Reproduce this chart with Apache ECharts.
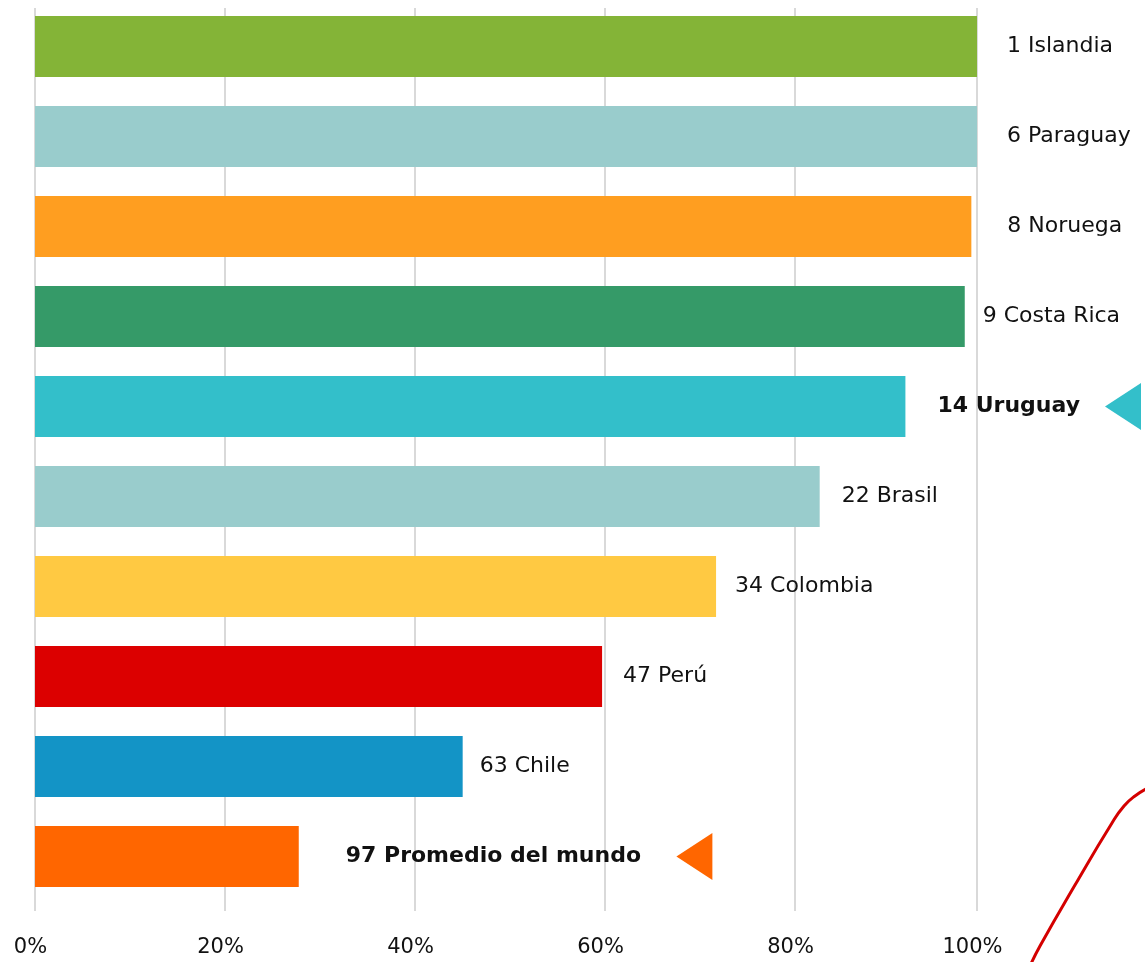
<!DOCTYPE html>
<html>
<head>
<meta charset="utf-8">
<script src="https://cdn.jsdelivr.net/npm/echarts@6/dist/echarts.min.js"></script>
<style>
html,body{margin:0;padding:0;background:#fff;}
#chart{width:1145px;height:962px;}
</style>
</head>
<body>
<div id="chart"></div>
<script>
// ---- data ----
var countries = ['Islandia', 'Paraguay', 'Noruega', 'Costa Rica', 'Uruguay', 'Brasil', 'Colombia', 'Perú', 'Chile', 'Promedio del mundo'];
var ranks = [1, 6, 8, 9, 14, 22, 34, 47, 63, 97];
var shares = [100, 100, 99.4, 98.7, 92.4, 83.3, 72.3, 60.2, 45.4, 28.0];
var highlighted = ['Uruguay', 'Promedio del mundo'];
var markerCountries = ['Uruguay', 'Promedio del mundo'];
var markerValues = [115.5, 70.0];
var tickLabels = ['0%', '20%', '40%', '60%', '80%', '100%'];
// decorative curve (page coordinates of a cropped ornament)
var curveX = [1030, 1040, 1075, 1112, 1124, 1135, 1148];
var curveY = [966, 946, 885, 823, 806, 796, 788];

// ---- styles ----
var colors = {
  'Islandia': '#84b437', 'Paraguay': '#99cccc', 'Noruega': '#ff9e20', 'Costa Rica': '#359a68',
  'Uruguay': '#33bfca', 'Brasil': '#99cccc', 'Colombia': '#ffc942', 'Perú': '#dc0000',
  'Chile': '#1394c6', 'Promedio del mundo': '#ff6600'
};
var labelGap = {
  'Islandia': 30, 'Paraguay': 30, 'Noruega': 36, 'Costa Rica': 18, 'Uruguay': 32,
  'Brasil': 22, 'Colombia': 19, 'Perú': 21, 'Chile': 17, 'Promedio del mundo': 47
};
var FONT = "'DejaVu Sans', sans-serif";
var tickFmt = function (v) { return tickLabels[Math.round(v / 20)]; };
var axisLabelStyle = {
  margin: 26, fontSize: 21, fontFamily: FONT, color: '#111',
  padding: [0, 9, 0, 0], formatter: tickFmt
};
var gridLineStyle = { color: '#cccccc', width: 1.5 };

var barData = countries.map(function (c, i) {
  var bold = highlighted.indexOf(c) >= 0;
  return {
    value: shares[i],
    itemStyle: { color: colors[c] },
    label: {
      show: true, position: 'right', distance: labelGap[c],
      formatter: ranks[i] + ' ' + c,
      fontSize: 22, fontFamily: FONT, color: '#111',
      fontWeight: bold ? 'bold' : 'normal'
    }
  };
});
var markerData = markerCountries.map(function (c, i) {
  return { value: [markerValues[i], c], itemStyle: { color: colors[c], opacity: 1 } };
});
var curveData = curveX.map(function (x, i) { return [x, curveY[i]]; });

var chart = echarts.init(document.getElementById('chart'));
chart.setOption({
  animation: false,
  backgroundColor: '#ffffff',
  grid: [
    { left: 35, width: 942, top: 1.5, height: 900 },
    { left: 35, width: 950, top: 8, height: 903 },
    { left: 0, right: 0, top: 0, bottom: 0 },
    { left: 35, width: 942, top: 8, height: 903 }
  ],
  xAxis: [
    { gridIndex: 0, type: 'value', min: 0, max: 100, show: false },
    {
      gridIndex: 1, type: 'value', min: 0, max: 100, interval: 20,
      axisLine: { show: false }, axisTick: { show: false },
      splitLine: { show: true, showMaxLine: false, lineStyle: gridLineStyle },
      axisLabel: Object.assign({ showMaxLabel: false }, axisLabelStyle)
    },
    { gridIndex: 2, type: 'value', min: 0, max: 1145, show: false },
    {
      gridIndex: 3, type: 'value', min: 0, max: 100, interval: 100,
      axisLine: { show: false }, axisTick: { show: false },
      splitLine: { show: true, showMinLine: false, lineStyle: gridLineStyle },
      axisLabel: Object.assign({ showMinLabel: false }, axisLabelStyle)
    }
  ],
  yAxis: [
    { gridIndex: 0, type: 'category', data: countries, inverse: true, show: false },
    { gridIndex: 1, type: 'value', show: false },
    { gridIndex: 2, type: 'value', min: 0, max: 962, inverse: true, show: false },
    { gridIndex: 3, type: 'value', show: false }
  ],
  series: [
    {
      type: 'bar', xAxisIndex: 0, yAxisIndex: 0, barWidth: 61, z: 3,
      data: barData
    },
    {
      type: 'scatter', xAxisIndex: 0, yAxisIndex: 0, clip: false,
      symbol: 'triangle', symbolRotate: 90, symbolSize: [47, 36],
      itemStyle: { opacity: 1 },
      data: markerData
    },
    {
      type: 'line', xAxisIndex: 2, yAxisIndex: 2, smooth: true,
      symbol: 'none', lineStyle: { color: '#d40000', width: 3 },
      data: curveData
    }
  ]
});
</script>
</body>
</html>
